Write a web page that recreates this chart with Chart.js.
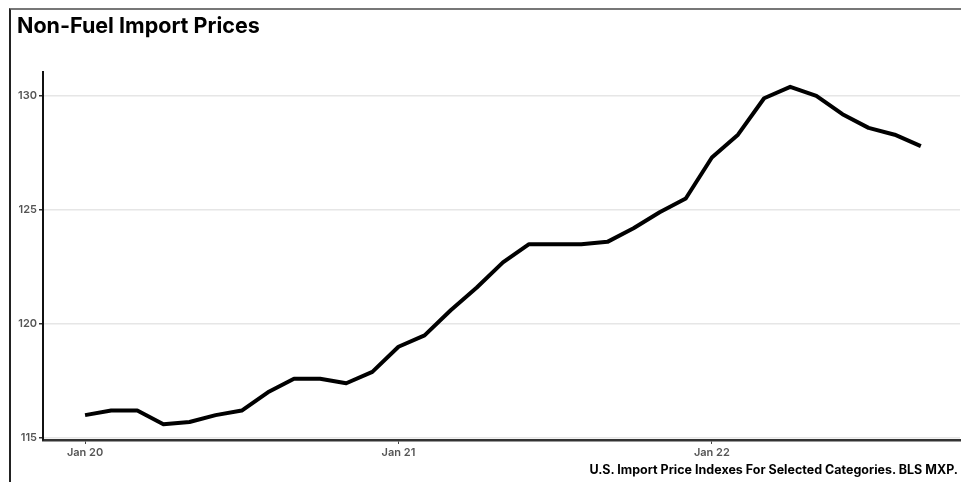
<!DOCTYPE html>
<html>
<head>
<meta charset="utf-8">
<script src="https://cdn.jsdelivr.net/npm/chart.js@4"></script>
<style>
  html, body { margin: 0; padding: 0; background: #fff; }
  #wrap { position: relative; width: 961px; height: 482px; overflow: hidden; font-family: Inter, "Noto Sans", sans-serif; }
  #frame { position: absolute; left: 9px; top: 8px; width: 1000px; height: 600px; border-top: 2px solid #777; border-left: 2px solid #222; }
  #title { position: absolute; left: 17px; top: 12px; font-size: 21.5px; font-weight: 700; color: #000; }
  #caption { position: absolute; right: 3px; top: 462px; font-size: 12.5px; font-weight: 700; color: #000; }
  #chart { position: absolute; left: 0; top: 0; }
</style>
</head>
<body>
<div id="wrap">
  <div id="frame"></div>
  <canvas id="chart" width="961" height="482"></canvas>
  <div id="title">Non-Fuel Import Prices</div>
  <div id="caption">U.S. Import Price Indexes For Selected Categories. BLS MXP.</div>
</div>
<script>
// monthly, Jan 2020 .. Sep 2022
const months = [
  'Jan 20','Feb 20','Mar 20','Apr 20','May 20','Jun 20','Jul 20','Aug 20','Sep 20','Oct 20','Nov 20','Dec 20',
  'Jan 21','Feb 21','Mar 21','Apr 21','May 21','Jun 21','Jul 21','Aug 21','Sep 21','Oct 21','Nov 21','Dec 21',
  'Jan 22','Feb 22','Mar 22','Apr 22','May 22','Jun 22','Jul 22','Aug 22','Sep 22'
];
const nonFuelIndex = [
  116.0, 116.2, 116.2, 115.6, 115.7, 116.0, 116.2, 117.0, 117.6, 117.6, 117.4, 117.9,
  119.0, 119.5, 120.6, 121.6, 122.7, 123.5, 123.5, 123.5, 123.6, 124.2, 124.9, 125.5,
  127.3, 128.3, 129.9, 130.4, 130.0, 129.2, 128.6, 128.3, 127.8
];
const xTickMonths = [0, 12, 24];
const yTicks = [115, 120, 125, 130];

const points = nonFuelIndex.map((v, i) => ({ x: i, y: v }));
const tickFont = { family: 'Inter, "Noto Sans", sans-serif', size: 11, weight: '600' };

new Chart(document.getElementById('chart').getContext('2d'), {
  type: 'line',
  data: {
    datasets: [{
      data: points,
      borderColor: '#000',
      borderWidth: 4,
      pointRadius: 0,
      tension: 0,
      borderJoinStyle: 'round',
      borderCapStyle: 'butt'
    }]
  },
  options: {
    responsive: false,
    animation: false,
    layout: { padding: { top: 72, right: 1, bottom: 0, left: 0 } },
    plugins: { legend: { display: false }, tooltip: { enabled: false } },
    scales: {
      x: {
        type: 'linear',
        min: -1.61,
        max: 33.5,
        afterBuildTicks: s => { s.ticks = xTickMonths.map(v => ({ value: v })); },
        afterFit: s => { s.height = 42; },
        ticks: {
          callback: v => months[v],
          color: '#555',
          font: tickFont,
          padding: 2,
          maxRotation: 0
        },
        grid: { drawOnChartArea: false, drawTicks: true, tickLength: 4, tickColor: '#444', tickWidth: 1 },
        border: { color: '#333', width: 2.5 }
      },
      y: {
        min: 114.91,
        max: 131.05,
        afterBuildTicks: s => { s.ticks = yTicks.map(v => ({ value: v })); },
        afterFit: s => { s.width = 43; },
        ticks: { color: '#555', font: tickFont, padding: 2 },
        grid: { color: '#e6e6e6', lineWidth: 1.5, drawTicks: true, tickLength: 4, tickColor: '#333' },
        border: { color: '#111', width: 2 }
      }
    }
  }
});
</script>
</body>
</html>
